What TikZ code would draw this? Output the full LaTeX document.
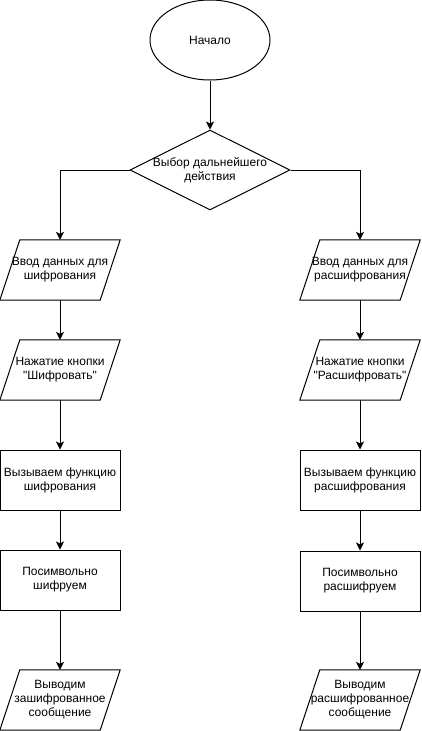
\documentclass[tikz,border=0pt]{standalone}
\usepackage{fontspec}
\setmainfont{Liberation Sans}[Ligatures=TeXOff]
\usetikzlibrary{shapes.geometric,arrows.meta}
\begin{document}
\begin{tikzpicture}[x=1pt,y=-1pt,
  every node/.style={font=\fontsize{12}{14}\selectfont, align=center, inner sep=0pt},
  startnode/.style={ellipse, draw, line width=1pt, minimum width=120pt, minimum height=80pt},
  decision/.style={diamond, draw, line width=1pt, minimum width=160pt, minimum height=80pt, aspect=2},
  iobox/.style={minimum width=120pt, minimum height=60pt},
  procbox/.style={rectangle, draw, line width=1pt, minimum width=120pt, minimum height=60pt},
  conn/.style={line width=1pt, -{Stealth[length=8pt,width=8pt,inset=2pt]}}]
\useasboundingbox (0,0) rectangle (421,731);

\node[startnode] (start) at (210,40) {Начало};
\node[decision, inner sep=0pt] (choice) at (210,170) {};
\node at (210,170) {Выбор дальнейшего\\действия};

\node[iobox] (inL) at (60,270) {Ввод данных для\\шифрования};
\node[iobox] (inR) at (360,270) {Ввод данных для\\расшифрования};
\node[iobox] (btnL) at (60,370) {Нажатие кнопки\\"Шифровать"};
\node[iobox] (btnR) at (360,370) {Нажатие кнопки\\"Расшифровать"};
\node[procbox] (fnL) at (60,480) {Вызываем функцию\\шифрования};
\node[procbox] (fnR) at (360,480) {Вызываем функцию\\расшифрования};
\node[procbox] (chL) at (60,580) {Посимвольно\\шифруем};
\node[procbox] (chR) at (360,581) {Посимвольно\\расшифруем};
\node[iobox] (outL) at (60,700) {Выводим\\зашифрованное\\сообщение};
\node[iobox] (outR) at (360,700) {Выводим\\расшифрованное\\сообщение};

\foreach \n in {inL,inR,btnL,btnR,outL,outR}{
  \draw[line width=1pt, line join=miter] ([xshift=20pt]\n.north west) -- (\n.north east) -- ([xshift=-20pt]\n.south east) -- (\n.south west) -- cycle;
}

\draw[conn] (start) -- (choice);
\draw[conn] (choice.west) -| (inL.north);
\draw[conn] (choice.east) -| (inR.north);
\draw[conn] (inL) -- (btnL);
\draw[conn] (inR) -- (btnR);
\draw[conn] (btnL) -- (fnL);
\draw[conn] (btnR) -- (fnR);
\draw[conn] (fnL) -- (chL);
\draw[conn] (fnR) -- (chR);
\draw[conn] (chL) -- (outL);
\draw[conn] (chR) -- (outR);
\end{tikzpicture}
\end{document}
